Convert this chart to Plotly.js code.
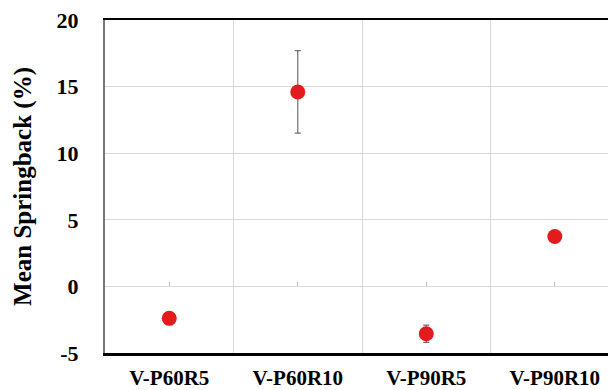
<!DOCTYPE html>
<html>
<head>
<meta charset="utf-8">
<script src="https://cdn.plot.ly/plotly-3.0.1.min.js"></script>
<style>html,body{margin:0;padding:0;background:#fff;}#chart{width:608px;height:390px;}</style>
</head>
<body>
<div id="chart"></div>
<script>
const categories = ["V-P60R5", "V-P60R10", "V-P90R5", "V-P90R10"];
const meanSpringback = [-2.4, 14.6, -3.55, 3.75];
const errorValues = [0.3, 3.1, 0.65, 0.2];
const yTickValues = [-5, 0, 5, 10, 15, 20];
const yTickLabels = ["-5", "0", "5", "10", "15", "20"];

const xIdx = categories.map((c, i) => i);
const fam = "Liberation Serif";

const data = [{
  type: "scatter",
  mode: "markers",
  x: xIdx,
  y: meanSpringback,
  marker: {color: "#e41b1c", size: 15},
  error_y: {type: "data", array: errorValues, visible: true, color: "#707070", thickness: 1.2, width: 3},
  hoverinfo: "skip",
  showlegend: false
}, {
  type: "scatter",
  mode: "markers",
  x: xIdx,
  y: xIdx.map(() => 0),
  xaxis: "x2",
  marker: {opacity: 0},
  hoverinfo: "skip",
  showlegend: false
}];

const layout = {
  width: 608,
  height: 390,
  margin: {l: 105, r: 0, t: 20, b: 37},
  paper_bgcolor: "#fff",
  plot_bgcolor: "#fff",
  font: {family: fam, color: "#000", weight: 700},
  xaxis: {
    range: [-0.5, 3.414],
    tickvals: xIdx,
    ticktext: categories.map(c => "<b>" + c + "</b>"),
    showgrid: false,
    zeroline: false,
    showline: true,
    mirror: true,
    linecolor: "#000",
    linewidth: 2.5,
    ticks: "",
    ticklabelstandoff: 4,
    tickfont: {family: fam, size: 21, color: "#000"},
    minor: {tickvals: [0.5, 1.5, 2.5], showgrid: true, gridcolor: "#d9d9d9", gridwidth: 1}
  },
  xaxis2: {
    overlaying: "x",
    matches: "x",
    anchor: "free",
    position: 0.2,
    range: [-0.5, 3.414],
    tickvals: xIdx,
    ticks: "inside",
    ticklen: 4,
    tickcolor: "#bbb",
    showticklabels: false,
    showgrid: false,
    zeroline: false,
    showline: false
  },
  yaxis: {
    range: [-5, 20],
    tickvals: yTickValues,
    ticktext: yTickLabels.map(t => "<b>" + t + "</b>"),
    showgrid: true,
    gridcolor: "#d9d9d9",
    gridwidth: 1,
    zeroline: false,
    showline: true,
    linecolor: "#777",
    linewidth: 2,
    ticks: "",
    ticklabelstandoff: 20,
    tickfont: {family: fam, size: 22, color: "#000"},
    title: {text: "<b>Mean Springback (%)</b>", font: {family: fam, size: 25, color: "#000"}, standoff: 18}
  }
};

Plotly.newPlot("chart", data, layout, {staticPlot: true, displayModeBar: false});
</script>
</body>
</html>
